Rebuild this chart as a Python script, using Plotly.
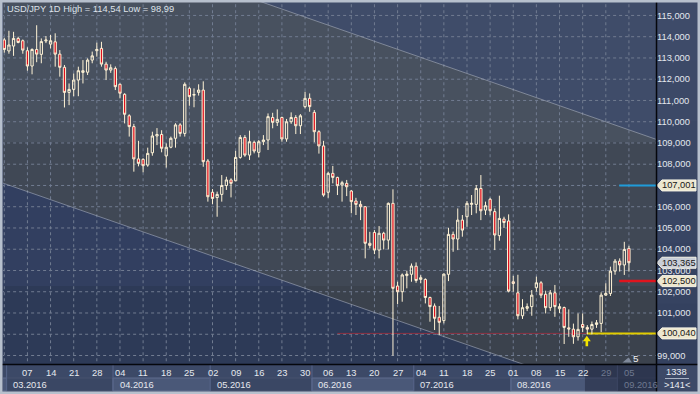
import plotly.graph_objects as go
import pandas as pd

# ---------------- data ----------------
dates = pd.bdate_range("2016-02-29", "2016-09-05")

opens = [113.85, 113.33, 113.56, 113.92, 113.81, 113.34, 112.62, 113.40, 113.17, 113.80,
         113.65, 113.76, 113.18, 112.56, 111.38, 111.52, 111.96, 112.32, 112.33, 112.90,
         113.34, 113.45, 112.71, 112.43, 112.50, 111.76, 111.29, 110.28, 109.77, 108.25,
         108.23, 107.96, 108.54, 109.33, 109.40, 108.39, 108.80, 109.22, 109.85, 109.45,
         111.57, 111.25, 111.38, 111.49, 108.15, 106.68, 106.43, 106.58, 107.00, 107.26,
         107.22, 108.32, 109.26, 108.43, 109.03, 108.56, 109.06, 109.14, 110.20, 109.97,
         110.20, 109.19, 110.00, 110.20, 109.81, 110.71, 111.10, 110.44, 109.53, 108.86,
         106.68, 107.57, 107.38, 107.02, 107.10, 106.74, 106.27, 106.11, 106.00, 104.28,
         104.79, 103.96, 104.75, 104.43, 106.16, 102.27, 102.00, 102.76, 102.82, 103.20,
         102.58, 102.58, 101.73, 101.33, 100.80, 100.64, 102.82, 104.70, 104.48, 105.37,
         105.53, 106.11, 106.11, 106.86, 105.84, 106.35, 105.77, 104.64, 105.42, 105.33,
         102.47, 101.95, 100.87, 101.22, 101.30, 102.19, 102.42, 101.88, 101.25, 101.95,
         101.20, 101.26, 100.30, 100.24, 99.88, 100.46, 100.32, 100.24, 100.46, 100.51,
         101.84, 101.92, 102.97, 103.44, 103.26, 104.04]

highs = [113.95, 114.28, 114.23, 114.00, 113.87, 113.50, 113.45, 114.54, 113.92, 114.03,
         114.08, 114.16, 113.37, 112.67, 111.80, 112.27, 112.59, 112.90, 112.98, 113.30,
         113.72, 113.76, 112.82, 112.70, 112.60, 111.80, 111.34, 110.35, 109.90, 109.10,
         108.28, 108.78, 109.53, 109.70, 109.60, 108.98, 109.30, 109.93, 109.93, 111.85,
         111.65, 111.57, 111.76, 111.90, 108.24, 106.83, 106.71, 107.49, 107.41, 107.34,
         108.63, 109.37, 109.37, 109.58, 109.11, 109.14, 109.37, 110.39, 110.42, 110.58,
         110.24, 110.13, 110.44, 110.31, 110.36, 111.41, 111.33, 110.55, 109.60, 109.10,
         107.65, 107.92, 107.41, 107.22, 107.26, 106.79, 106.42, 106.28, 106.03, 104.82,
         104.90, 105.09, 104.82, 106.20, 106.82, 102.47, 102.86, 102.99, 103.33, 103.38,
         102.78, 102.63, 101.77, 101.45, 101.33, 102.86, 105.01, 104.83, 105.92, 105.61,
         106.27, 106.55, 107.02, 107.49, 106.24, 106.42, 105.92, 106.52, 105.53, 105.64,
         102.75, 102.80, 101.65, 101.45, 102.08, 102.71, 102.50, 102.05, 102.08, 102.32,
         101.45, 101.30, 101.17, 100.50, 100.98, 100.98, 100.43, 100.60, 100.67, 101.97,
         102.40, 103.18, 103.54, 103.57, 104.35, 104.16]

lows = [113.25, 113.20, 113.10, 113.69, 113.20, 112.40, 112.23, 112.80, 112.75, 113.70,
        113.45, 112.59, 112.12, 110.67, 110.78, 111.20, 111.20, 111.80, 112.20, 112.75,
        113.06, 112.59, 111.96, 112.30, 111.49, 111.10, 109.92, 109.30, 107.65, 107.90,
        107.62, 107.88, 108.40, 108.90, 108.56, 107.84, 108.75, 108.78, 109.30, 109.30,
        110.75, 110.68, 111.23, 107.88, 106.24, 106.13, 105.53, 106.24, 106.79, 106.44,
        107.20, 108.26, 108.35, 108.20, 108.51, 108.32, 108.90, 108.67, 109.69, 109.80,
        109.06, 109.06, 109.90, 109.42, 109.42, 110.63, 110.47, 109.03, 108.50, 106.47,
        106.42, 107.10, 106.55, 106.24, 106.50, 105.69, 105.61, 105.37, 103.57, 104.04,
        103.77, 103.57, 103.99, 103.99, 98.99, 101.42, 101.53, 102.16, 102.47, 102.42,
        102.40, 101.45, 100.59, 100.20, 99.96, 100.51, 102.50, 103.88, 103.96, 104.59,
        105.06, 105.61, 105.69, 105.37, 105.61, 105.60, 103.96, 104.40, 105.00, 101.97,
        102.00, 100.70, 100.72, 101.09, 100.87, 102.00, 101.70, 100.98, 101.10, 100.82,
        101.00, 99.54, 99.88, 99.55, 99.70, 100.10, 100.00, 100.00, 100.30, 100.10,
        101.81, 101.80, 102.80, 102.95, 102.79, 102.95]

closes = [113.40, 113.61, 113.92, 113.73, 113.37, 112.62, 113.40, 113.18, 113.77, 113.84,
          113.81, 113.18, 112.56, 111.38, 111.52, 111.96, 112.40, 112.40, 112.90, 113.10,
          113.40, 112.71, 112.43, 112.54, 111.65, 111.34, 110.35, 109.77, 108.25, 108.04,
          107.93, 108.51, 109.33, 109.40, 108.75, 108.80, 109.22, 109.85, 109.45, 111.76,
          111.18, 111.28, 111.49, 108.12, 106.47, 106.39, 106.58, 107.00, 107.26, 107.10,
          108.32, 109.26, 108.43, 109.06, 108.62, 109.06, 109.14, 110.24, 109.97, 110.11,
          109.19, 110.00, 110.20, 109.81, 110.28, 111.10, 110.71, 109.53, 108.86, 106.55,
          107.57, 107.38, 106.99, 107.13, 106.94, 106.24, 106.11, 106.00, 104.28, 104.18,
          103.96, 104.75, 104.43, 106.16, 102.16, 102.00, 102.79, 102.83, 103.21, 102.53,
          102.66, 101.73, 101.30, 100.75, 100.56, 102.83, 104.70, 104.48, 105.37, 104.90,
          106.16, 106.16, 106.86, 105.81, 106.05, 105.81, 104.67, 105.45, 105.26, 102.03,
          102.39, 100.87, 101.25, 101.30, 101.84, 102.42, 101.84, 101.25, 101.95, 101.30,
          101.30, 100.32, 100.25, 99.88, 100.23, 100.32, 100.24, 100.46, 100.54, 101.84,
          101.92, 102.97, 103.44, 103.26, 103.99, 103.365]

title_text = "USD/JPY 1D High = 114,54 Low = 98,99"
y_ticks = list(range(99, 116))
y_ticktext = ["" if v in (100, 107) else f"{v},000" for v in y_ticks]

# horizontal levels / price tags
tag_prices = [107.001, 103.365, 102.500, 100.040]
tag_texts = ["107,001", "103,365", "102,500", "100,040"]
tag_fills = ["#ede7cf", "#c9ced7", "#ede7cf", "#ede7cf"]
level_blue = 107.001
level_red = 102.500
level_yellow = 100.040
level_start_date = "2016-08-31"
dark_level_start_date = "2016-06-08"
yellow_start_date = "2016-08-23"
arrow_date = "2016-08-23"
arrow_price = 99.93

# channel (price at bar 0 and slope per bar)
chan_slope = -0.0758
chan_upper0 = 119.85
chan_lower0 = 107.09

footer_top = "1338"
footer_bottom = ">141<"
marker_label = "5"

# ---------------- geometry ----------------
W, H = 700, 394
ML, MR, MT, MB = 3, 44, 2, 30
PW, PH = W - ML - MR, H - MT - MB
XR0, XR1 = -0.28, 140.85
YR0, YR1 = 98.60, 115.633

FONT = "Liberation Sans, Arial, sans-serif"
FS = 9.3
GRID = "#717c91"


def px_x(p):
    return (p - ML) / PW


def px_y(p):
    return (H - MB - p) / PH


idx = list(range(len(dates)))
date_pos = {d.strftime("%Y-%m-%d"): i for i, d in enumerate(dates)}
mondays = [i for i, d in enumerate(dates) if d.weekday() == 0]

fig = go.Figure()
fig.add_trace(go.Candlestick(
    x=idx, open=opens, high=highs, low=lows, close=closes,
    increasing=dict(line=dict(color="#fff3d6", width=1), fillcolor="rgba(0,0,0,0)"),
    decreasing=dict(line=dict(color="#fff3d6", width=1), fillcolor="#e0101f"),
    whiskerwidth=0, hoverinfo="skip", showlegend=False))

shapes = []
xa, xb = XR0 - 3, XR1 + 3


def up(x):
    return chan_upper0 + chan_slope * x


def lo(x):
    return chan_lower0 + chan_slope * x


def pth(pts):
    return "M " + " L ".join(f"{x:.4f},{y:.4f}" for x, y in pts) + " Z"


# background regions (data-referenced, layer below)
shapes.append(dict(type="path", xref="x", yref="y", layer="below", line_width=0,
                   fillcolor="#3f4c69",
                   path=pth([(xa, up(xa)), (xb, up(xb)), (xb, 130), (xa, 130)])))
shapes.append(dict(type="path", xref="x", yref="y", layer="below", line_width=0,
                   fillcolor="#48515f",
                   path=pth([(xa, up(xa)), (xb, up(xb)), (xb, lo(xb)), (xa, lo(xa))])))
shapes.append(dict(type="path", xref="x", yref="y", layer="below", line_width=0,
                   fillcolor="#38476b",
                   path=pth([(xa, lo(xa)), (xb, lo(xb)), (xb, 90), (xa, 90)])))
band_mid = 109.04
band_low = 102.27
shapes.append(dict(type="path", xref="x", yref="y", layer="below", line_width=0,
                   fillcolor="rgba(0,0,0,0.10)",
                   path=pth([(xa, band_mid), (xb, band_mid), (xb, band_low), (xa, band_low)])))
shapes.append(dict(type="path", xref="x", yref="y", layer="below", line_width=0,
                   fillcolor="rgba(0,0,0,0.18)",
                   path=pth([(xa, band_low), (xb, band_low), (xb, 90), (xa, 90)])))

# dashed grid
for m in mondays:
    shapes.append(dict(type="line", xref="x", yref="y", layer="between",
                       x0=m, x1=m, y0=YR0 - 1, y1=YR1 + 1,
                       line=dict(color=GRID, width=1, dash="3px,3px")))
for v in y_ticks:
    shapes.append(dict(type="line", xref="x", yref="y", layer="between",
                       x0=xa, x1=xb, y0=v, y1=v,
                       line=dict(color=GRID, width=1, dash="3px,3px")))

# channel lines
for f in (up, lo):
    shapes.append(dict(type="line", xref="x", yref="y", layer="between",
                       x0=xa, x1=xb, y0=f(xa), y1=f(xb),
                       line=dict(color="rgba(175,183,198,0.55)", width=1)))

# horizontal levels
shapes.append(dict(type="line", xref="x", yref="y", layer="between",
                   x0=date_pos[dark_level_start_date], x1=date_pos[yellow_start_date] - 0.1,
                   y0=level_yellow, y1=level_yellow,
                   line=dict(color="#8f3243", width=1)))
shapes.append(dict(type="line", xref="x", yref="y", layer="between",
                   x0=date_pos[yellow_start_date] - 0.1, x1=XR1 + 1,
                   y0=level_yellow, y1=level_yellow,
                   line=dict(color="#e2cc00", width=2)))
shapes.append(dict(type="line", xref="x", yref="y", layer="between",
                   x0=date_pos[level_start_date] + 0.9, x1=XR1 + 1,
                   y0=level_red, y1=level_red,
                   line=dict(color="#e0141e", width=2.5)))
shapes.append(dict(type="line", xref="x", yref="y", layer="between",
                   x0=date_pos[level_start_date] + 0.9, x1=XR1 + 1,
                   y0=level_blue, y1=level_blue,
                   line=dict(color="#1f9bd9", width=2)))

# yellow up arrow (pixel-sized, anchored at the data point)
shapes.append(dict(type="path", xref="x", yref="y", xsizemode="pixel", ysizemode="pixel",
                   xanchor=date_pos[arrow_date] - 0.1, yanchor=arrow_price, layer="above",
                   path="M 0,0 L 4,-5.5 L 1.3,-5.5 L 1.3,-10.5 L -1.3,-10.5 L -1.3,-5.5 L -4,-5.5 Z",
                   fillcolor="#f3e400", line_width=0))

# right panel gradient
rp_cols = ["#3e4b69", "#3c4967", "#3a4765", "#384563", "#364361", "#34415f"]
for k, c in enumerate(rp_cols):
    y_top = k * (H - MB) / len(rp_cols)
    y_bot = (k + 1) * (H - MB) / len(rp_cols)
    shapes.append(dict(type="rect", xref="paper", yref="paper", layer="below",
                       x0=1, x1=px_x(W), y0=px_y(y_bot), y1=px_y(y_top),
                       fillcolor=c, line_width=0))

annotations = []
# price tags
for p, t, fc in zip(tag_prices, tag_texts, tag_fills):
    shapes.append(dict(type="path", xref="paper", yref="y", xsizemode="pixel",
                       ysizemode="pixel", xanchor=1, yanchor=p, layer="above",
                       path="M 1,0 L 6,5.5 L 40,5.5 L 40,-5.5 L 6,-5.5 Z",
                       fillcolor=fc, line=dict(color="#f7f4e6", width=1)))
    annotations.append(dict(xref="paper", yref="y", x=1, y=p, xshift=23,
                            xanchor="center", yanchor="middle", text=t, showarrow=False,
                            font=dict(family=FONT, size=FS, color="#161616")))

# bottom axis: month boxes
row2_top, row2_bot = 378, 391
row1_top = 365
bounds = [-0.5] + [i - 0.5 for i in range(1, len(dates)) if dates[i].month != dates[i - 1].month]
bounds_end = bounds[1:] + [XR1 + 10]
for b0, b1 in zip(bounds, bounds_end):
    m = dates[int(b0 + 0.5)].month
    light = (m % 2 == 0)
    shapes.append(dict(type="rect", xref="x", yref="paper", layer="above",
                       x0=b0, x1=b1, y0=px_y(row2_bot), y1=px_y(row2_top),
                       fillcolor="#4a5878" if light else "#3a4764",
                       line=dict(color="#5f6d8e" if light else "#46536f", width=1)))
    shapes.append(dict(type="line", xref="x", yref="paper", layer="above",
                       x0=b0, x1=b0, y0=px_y(row2_bot), y1=px_y(row1_top),
                       line=dict(color="#56648a", width=1)))

dim_start = 125.5
shapes.append(dict(type="rect", xref="x", yref="paper", layer="above",
                   x0=dim_start, x1=XR1, y0=px_y(392), y1=px_y(365),
                   fillcolor="rgba(26,32,50,0.45)", line_width=0))

DAY_COL = "#e6e9ef"
DIM_COL = "#6f7990"
for i, d in enumerate(dates):
    if d.weekday() == 0 and i >= 2:
        annotations.append(dict(xref="x", yref="paper", x=i, y=px_y(372.5),
                                xanchor="center", yanchor="middle", showarrow=False,
                                text=f"{d.day:02d}",
                                font=dict(family=FONT, size=FS,
                                          color=DIM_COL if i > dim_start + 1 else DAY_COL)))
for b0 in bounds[1:]:
    d = dates[int(b0 + 0.5)]
    annotations.append(dict(xref="x", yref="paper", x=b0, xshift=4.5, y=px_y(384.5),
                            xanchor="left", yanchor="middle", showarrow=False,
                            text=d.strftime("%m.%Y"),
                            font=dict(family=FONT, size=FS,
                                      color=DIM_COL if b0 > dim_start else DAY_COL)))

# separators and frame
shapes.append(dict(type="line", xref="paper", yref="paper", layer="above",
                   x0=1.0008, x1=1.0008, y0=px_y(392), y1=px_y(0),
                   line=dict(color="#05070c", width=1.5)))
shapes.append(dict(type="line", xref="paper", yref="paper", layer="above",
                   x0=px_x(0), x1=px_x(698), y0=px_y(364.5), y1=px_y(364.5),
                   line=dict(color="#05070c", width=1.5)))
shapes.append(dict(type="rect", xref="paper", yref="paper", layer="above",
                   x0=px_x(0), x1=px_x(W), y0=px_y(H), y1=px_y(0),
                   line=dict(color="#b7c0cd", width=5), fillcolor="rgba(0,0,0,0)"))

# footer box
annotations.append(dict(xref="paper", yref="paper", x=px_x(676.5), y=px_y(372),
                        text=footer_top, showarrow=False, xanchor="center", yanchor="middle",
                        font=dict(family=FONT, size=FS, color="#e8ecf2")))
annotations.append(dict(xref="paper", yref="paper", x=px_x(676.5), y=px_y(385),
                        text=footer_bottom, showarrow=False, xanchor="center", yanchor="middle",
                        font=dict(family=FONT, size=FS, color="#e8ecf2")))
shapes.append(dict(type="line", xref="paper", yref="paper", layer="above",
                   x0=px_x(665), x1=px_x(689), y0=px_y(378.5), y1=px_y(378.5),
                   line=dict(color="#a8b2c4", width=1)))

# small marker "5" with tab triangle
annotations.append(dict(xref="paper", yref="paper", x=px_x(636), y=px_y(358.5),
                        text=marker_label, showarrow=False, xanchor="center", yanchor="middle",
                        font=dict(family=FONT, size=FS + 0.5, color="#f2f2f2")))
shapes.append(dict(type="path", xref="paper", yref="paper", layer="above",
                   path=pth([(px_x(622.5), px_y(362.5)), (px_x(628.5), px_y(357.5)),
                             (px_x(632), px_y(362.5))]),
                   fillcolor="#7f899b", line_width=0))

# title
annotations.append(dict(xref="paper", yref="paper", x=px_x(5), y=px_y(8.5),
                        text=title_text, showarrow=False, xanchor="left", yanchor="middle",
                        font=dict(family=FONT, size=FS, color="#dde2ea")))

fig.update_layout(
    width=W, height=H,
    margin=dict(l=ML, r=MR, t=MT, b=MB, pad=0),
    paper_bgcolor="#3c4967",
    plot_bgcolor="#48515f",
    showlegend=False,
    hovermode=False,
    shapes=shapes,
    annotations=annotations,
    xaxis=dict(range=[XR0, XR1], rangeslider=dict(visible=False), showticklabels=False,
               ticks="", showgrid=False, zeroline=False, showline=False, fixedrange=True),
    yaxis=dict(range=[YR0, YR1], side="right", tickvals=y_ticks, ticktext=y_ticktext,
               ticks="", showgrid=False, zeroline=False, showline=False, fixedrange=True,
               tickfont=dict(family=FONT, size=FS, color="#e3e7ee")),
)

fig.write_html(
    "out.html",
    config={"displayModeBar": False, "staticPlot": True},
    post_script="document.body.style.margin='0px';document.body.style.overflow='hidden';",
)
